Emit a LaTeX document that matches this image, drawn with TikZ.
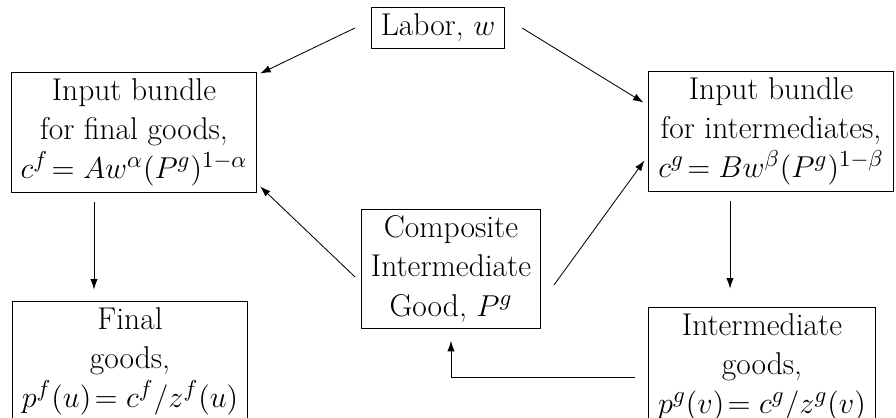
\documentclass[tikz,border=0pt]{standalone}
\usepackage{amsmath}
\usetikzlibrary{arrows.meta,calc}
\tikzset{
  box/.style={draw, align=center, font=\fontsize{15}{18.6}\selectfont, inner xsep=4.5pt, inner ysep=3pt},
  flow/.style={-{Latex[length=5pt,width=3.5pt]}},
}
\begin{document}
\begin{tikzpicture}[x=0.4763pt, y=-0.4763pt]
            \useasboundingbox (0,0) rectangle (896,417);
            % Define boxes
            \node[box] (labor) at (438,28) {Labor, $w$};
            \node[box] (inputf) at (134,132) {Input bundle\\for final goods,\\$c^f\!= Aw^{\alpha}(P^g)^{1-\alpha}$};
            \node[box] (inputg) at (771,131) {Input bundle\\for intermediates,\\$c^g\!= Bw^{\beta}(P^g)^{1-\beta}$};
            \node[box] (comp) at (451,269) {Composite\\Intermediate\\Good, $P^g$};
            \node[box] (finalg) at (130,361) {Final\\goods,\\$p^f(u)\!= c^f/z^f(u)$};
            \node[box] (interg) at (762,367) {Intermediate\\goods,\\$p^g(v)\!= c^g/z^g(v)$};
            % Labor into the bundles
            \draw[flow] ($(labor.west)+(-16,0)$) -- ($(inputf.north east)+(3,2)$);
            \draw[flow] ($(labor.east)+(17,0)$) -- ($(inputg.north west)+(-5,32)$);
            % Bundles into goods
            \draw[flow] ($(inputf.south)+(-40,10)$) coordinate (fstart)
              -- ($(fstart |- finalg.north)+(0,-11)$);
            \draw[flow] ($(inputg.south)+(-41,10)$) coordinate (gstart)
              -- ($(gstart |- interg.north)+(0,-18)$);
            % Composite good back into the bundles
            \draw[flow] ($(comp.west)+(-6,8)$) -- ($(inputf.south east)+(3,-6)$);
            \draw[flow] ($(comp.east)+(13,16)$) -- ($(inputg.south west)+(-4,-31)$);
            \draw[flow] ($(interg.west)+(-13,10)$) -| ($(comp.south)+(0,12)$);
          \end{tikzpicture}
\end{document}
